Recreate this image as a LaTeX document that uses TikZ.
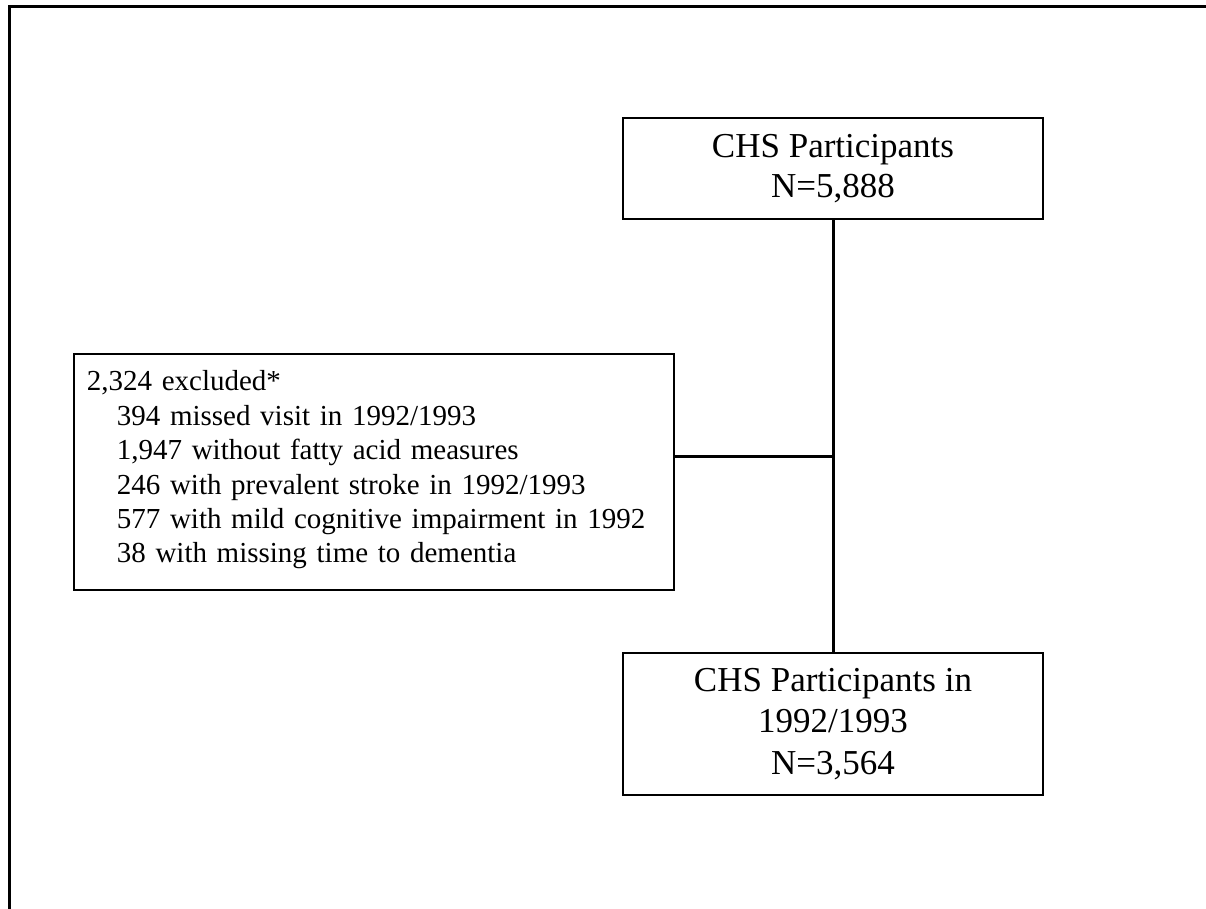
\documentclass[tikz,border=0pt]{standalone}
\usepackage{fontspec}
\setmainfont{Liberation Serif}
\usetikzlibrary{positioning}

\tikzset{
	box/.style={draw, line width=1.7pt, inner sep=0pt, align=center},
	link/.style={line width=3pt},
	frame/.style={line width=3pt},
}
\newcommand{\ind}{\hspace*{30pt}}

\begin{document}
\begin{tikzpicture}[x=1pt, y=-1pt]
	\useasboundingbox (0,0) rectangle (1206,909);
	% outer frame (cut off at right and bottom)
	\draw[frame] (1206,7) -- (9,7) -- (9,909);
	% boxes
	\path
	(833,168.5) node[box, minimum width=420, minimum height=101,
		font=\fontsize{35}{39.5}\selectfont] (chs) {CHS Participants\\N=5,888}
	(833,724) node[box, minimum width=420, minimum height=142,
		font=\fontsize{35}{41.5}\selectfont] (final) {CHS Participants in\\1992/1993\\N=3,564}
	(73,353) node[box, anchor=north west, align=left, text width=574, inner xsep=13,
		font=\fontsize{29}{34.4}\selectfont] (excl)
		{\rule{0pt}{37pt}2,324 excluded*\\
		\ind 394 missed visit in 1992/1993\\
		\ind 1,947 without fatty acid measures\\
		\ind 246 with prevalent stroke in 1992/1993\\
		\ind 577 with mild cognitive impairment in 1992\\
		\ind 38 with missing time to dementia\rule[-27pt]{0pt}{27pt}}
	;
	% connectors
	\coordinate (join) at (833,456);
	\draw[link] (chs.south) -- (final.north);
	\draw[link] (join -| excl.east) -- (join);
\end{tikzpicture}
\end{document}
